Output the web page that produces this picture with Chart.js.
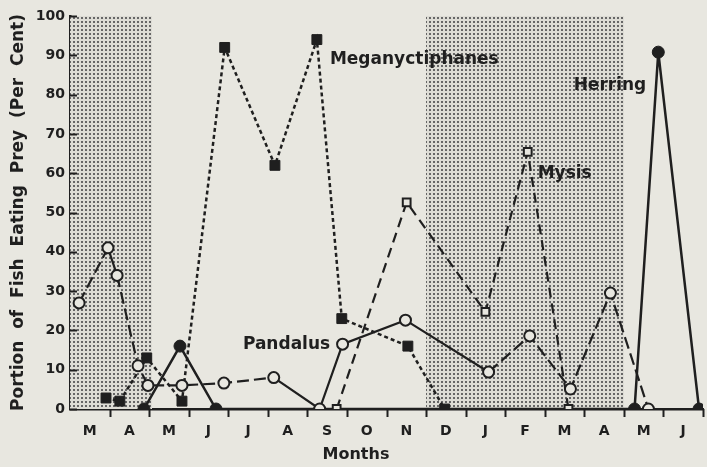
<!DOCTYPE html>
<html>
<head>
<meta charset="utf-8">
<script src="https://cdn.jsdelivr.net/npm/chart.js@4"></script>
<style>
  html, body { margin: 0; padding: 0; background: #e8e7e0; }
  #wrap { width: 707px; height: 467px; }
</style>
</head>
<body>
<div id="wrap"><canvas id="myChart" width="707" height="467"></canvas></div>
<script>
// months from March (0) to June of the next year (16)
const monthLabels = ['M','A','M','J','J','A','S','O','N','D','J','F','M','A','M','J'];
const yTicks = [0,10,20,30,40,50,60,70,80,90,100];

const pandalusMonth = [0.23,0.96,1.19,1.72,1.97,2.83,3.89,5.15,6.31,6.89,8.48,10.58,11.62,12.65,13.66,14.62];
const pandalusPct   = [27,41,34,11,6,6,6.6,8,0,16.5,22.6,9.4,18.6,5.1,29.5,0];

const meganMonth = [0.91,1.26,1.94,2.83,3.91,5.18,6.24,6.87,8.54,9.47];
const meganPct   = [2.8,2,13,2,92,62,94,23,16,0];

const mysisMonth = [6.74,8.51,10.5,11.57,12.6];
const mysisPct   = [0,52.6,24.7,65.4,0];

const herringMonth = [1.87,2.78,3.69,14.27,14.87,15.9];
const herringPct   = [0,16,0,0,90.8,0];

// shaded (dotted) periods, in months
const shadeStart = [0, 9];
const shadeEnd   = [2.08, 14];

const seriesLabels = [
  { text: 'Meganyctiphanes', month: 6.57, pct: 88.8 },
  { text: 'Herring', month: 12.73, pct: 82.4 },
  { text: 'Mysis', month: 11.82, pct: 60 },
  { text: 'Pandalus', month: 4.37, pct: 16.3 }
];

const ink = '#1f1f1f';
const paper = '#e8e7e0';

function pts(xs, ys) { return xs.map((x, i) => ({ x: x, y: ys[i] })); }

function dotPattern(ctx) {
  const c = document.createElement('canvas');
  c.width = 4; c.height = 4;
  const g = c.getContext('2d');
  g.fillStyle = '#dddcd5';
  g.fillRect(0, 0, 4, 4);
  g.fillStyle = '#666';
  g.fillRect(1, 1, 2, 2);
  return ctx.createPattern(c, 'repeat');
}

const decor = {
  id: 'decor',
  beforeDraw(chart) {
    const ctx = chart.ctx;
    ctx.save();
    ctx.fillStyle = paper;
    ctx.fillRect(0, 0, chart.width, chart.height);
    ctx.restore();
  },
  beforeDatasetsDraw(chart) {
    const ctx = chart.ctx, xs = chart.scales.x, ys = chart.scales.y;
    ctx.save();
    ctx.fillStyle = dotPattern(ctx);
    for (let i = 0; i < shadeStart.length; i++) {
      const x0 = Math.round(xs.getPixelForValue(shadeStart[i]));
      const x1 = Math.round(xs.getPixelForValue(shadeEnd[i]));
      const y0 = Math.round(ys.getPixelForValue(100));
      const y1 = Math.round(ys.getPixelForValue(0));
      ctx.fillRect(x0, y0, x1 - x0, y1 - y0);
    }
    // tick marks
    ctx.strokeStyle = ink;
    ctx.lineWidth = 2;
    const axY = ys.getPixelForValue(0);
    for (let m = 1; m <= 16; m++) {
      const px = Math.round(xs.getPixelForValue(m)) + 0.5;
      ctx.beginPath(); ctx.moveTo(px, axY); ctx.lineTo(px, axY + 8); ctx.stroke();
    }
    const axX = xs.getPixelForValue(0);
    yTicks.forEach(v => {
      const py = Math.round(ys.getPixelForValue(v)) + 0.5;
      ctx.beginPath(); ctx.moveTo(axX, py); ctx.lineTo(axX + 7, py); ctx.stroke();
    });
    ctx.restore();
  },
  afterDatasetsDraw(chart) {
    const ctx = chart.ctx, xs = chart.scales.x, ys = chart.scales.y;
    ctx.save();
    ctx.fillStyle = ink;
    ctx.font = 'bold 17px "DejaVu Sans"';
    ctx.textBaseline = 'middle';
    ctx.textAlign = 'left';
    seriesLabels.forEach(l => {
      ctx.fillText(l.text, xs.getPixelForValue(l.month), ys.getPixelForValue(l.pct));
    });
    ctx.font = 'bold 16px "DejaVu Sans"';
    ctx.textAlign = 'center';
    ctx.fillText('Months', 356, 455);
    ctx.restore();
  }
};

const ctx = document.getElementById('myChart').getContext('2d');
const myChart = new Chart(ctx, {
  type: 'scatter',
  data: {
    datasets: [
      {
        label: 'Pandalus',
        data: pts(pandalusMonth, pandalusPct),
        showLine: true,
        borderColor: ink,
        borderWidth: 2.2,
        borderDash: [12, 5],
        pointStyle: 'circle',
        pointRadius: 5.5,
        pointBorderWidth: 2,
        pointBackgroundColor: paper,
        pointBorderColor: ink,
        segment: {
          borderDash: c => (c.p0DataIndex >= 7 && c.p0DataIndex <= 10) || c.p0DataIndex === 1 ? [] : [12, 5]
        }
      },
      {
        label: 'Mysis',
        data: pts(mysisMonth, mysisPct),
        showLine: true,
        borderColor: ink,
        borderWidth: 2.2,
        borderDash: [10, 6],
        pointStyle: 'rect',
        pointRadius: 5.5,
        pointBorderWidth: 2,
        pointBackgroundColor: paper,
        pointBorderColor: ink
      },
      {
        label: 'Meganyctiphanes',
        data: pts(meganMonth, meganPct),
        showLine: true,
        borderColor: ink,
        borderWidth: 2.5,
        borderDash: [4, 3],
        pointStyle: 'rect',
        pointRadius: 7,
        pointBorderWidth: 1,
        pointBackgroundColor: ink,
        pointBorderColor: ink
      },
      {
        label: 'Herring',
        data: pts(herringMonth, herringPct),
        showLine: true,
        borderColor: ink,
        borderWidth: 2.5,
        pointStyle: 'circle',
        pointRadius: 6,
        pointBorderWidth: 1,
        pointBackgroundColor: ink,
        pointBorderColor: ink
      }
    ]
  },
  options: {
    responsive: false,
    animation: false,
    layout: { autoPadding: false, padding: { top: 16, right: 4, left: 0, bottom: 0 } },
    plugins: {
      legend: { display: false },
      tooltip: { enabled: false }
    },
    scales: {
      x: {
        type: 'linear',
        min: 0,
        max: 16,
        afterBuildTicks: s => { s.ticks = monthLabels.map((m, i) => ({ value: i + 0.5 })); },
        afterFit: s => { s.height = 58; s.paddingLeft = 0; s.paddingRight = 0; },
        grid: { display: false, drawTicks: false },
        border: { display: true, color: ink, width: 2.5 },
        ticks: {
          autoSkip: false,
          maxRotation: 0,
          padding: 14,
          color: ink,
          font: { family: 'DejaVu Sans', size: 14, weight: 'bold' },
          callback: (v, i) => monthLabels[i]
        }
      },
      y: {
        min: 0,
        max: 100,
        afterBuildTicks: s => { s.ticks = yTicks.map(v => ({ value: v })); },
        afterFit: s => { s.width = 70; },
        grid: { display: false, drawTicks: false },
        border: { display: true, color: ink, width: 2.5 },
        ticks: {
          padding: 5,
          color: ink,
          font: { family: 'DejaVu Sans', size: 14, weight: 'bold' }
        },
        title: {
          display: true,
          text: 'Portion  of  Fish  Eating  Prey  (Per  Cent)',
          color: ink,
          font: { family: 'DejaVu Sans', size: 17, weight: 'bold' },
          padding: { top: 8, bottom: 0 }
        }
      }
    }
  },
  plugins: [decor]
});
</script>
</body>
</html>
